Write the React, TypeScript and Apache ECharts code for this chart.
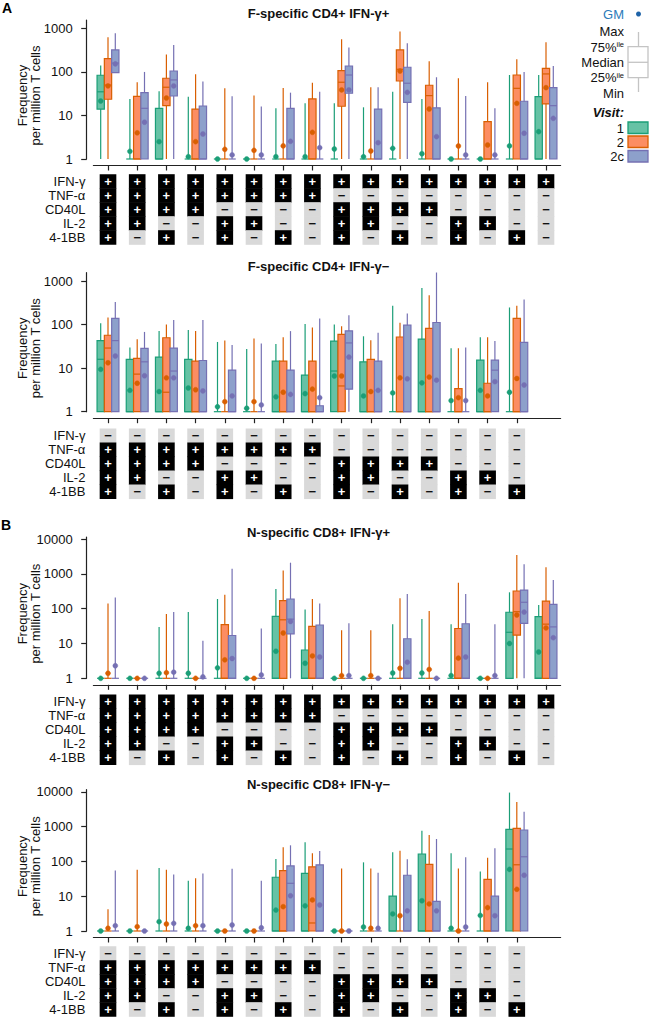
import React, { useEffect, useRef } from "react";
import * as echarts from "echarts";

const FONT = "'Liberation Sans', Arial, Helvetica, sans-serif";

const MARKERS = ["IFN-γ", "TNF-α", "CD40L", "IL-2", "4-1BB"];
const VISITS = ["1", "2", "2c"];
const COMBOS_POS = ["+++++", "++++-", "+++-+", "+++--", "++-++", "++-+-", "++--+", "++---", "+-+++", "+-++-", "+-+-+", "+-+--", "+--++", "+--+-", "+---+", "+----"];
const COMBOS_NEG = ["-++++", "-+++-", "-++-+", "-++--", "-+-++", "-+-+-", "-+--+", "-+---", "--+++", "--++-", "--+-+", "--+--", "---++", "---+-", "----+"];
const TICKS_A = [1, 10, 100, 1000];
const TICKS_B = [1, 10, 100, 1000, 10000];
const TITLES = ["F-specific CD4+ IFN-γ+", "F-specific CD4+ IFN-γ−", "N-specific CD8+ IFN-γ+", "N-specific CD8+ IFN-γ−"];

// [min, q25, median, q75, max, GM]
const F_POS_V1 = [[1, 14, 35, 84, 140, 21.5], [1, 1, 1, 1, 24, 1.5], [1, 1, 1, 14.6, 36, 2.5], [1, 1, 1, 1, 27, 1.13], [1, 1, 1, 1, 1, 1], [1, 1, 1, 1, 1, 1], [1, 1, 1, 1, 14.6, 1.13], [1, 1, 1, 1, 19, 1.13], [1, 1, 1, 1, 19, 1.7], [1, 1, 1, 1, 15.4, 1.13], [1, 1, 1, 1, 35, 1.76], [1, 1, 1, 1, 24, 1.32], [1, 1, 1, 1, 1, 1], [1, 1, 1, 1, 1, 1], [1, 1, 1, 1, 85, 2.0], [1, 1, 1, 27, 85, 4.25]];
const F_POS_V2 = [[1, 23.6, 50, 202, 627, 47.7], [1, 1, 1, 27.6, 58, 4], [1, 16.8, 44.5, 71.6, 250, 25.2], [1, 1, 1, 14, 88.5, 2.5], [1, 1, 1, 1, 42, 1.67], [1, 1, 1, 1, 28.6, 1.58], [1, 1, 1, 1, 42.9, 2.0], [1, 1, 1, 24, 56.7, 4.1], [1, 16.3, 58, 107, 565, 38.6], [1, 1, 1, 1, 44.6, 1.53], [1, 62, 115, 320, 845, 105], [1, 1, 28.6, 49.4, 176, 14.1], [1, 1, 1, 1, 71.6, 1.99], [1, 1, 1, 7.2, 58, 2.1], [1, 1, 42, 85, 195, 19], [1, 18.4, 90, 121, 481, 43.6]];
const F_POS_V2C = [[95, 96, 160, 320, 775, 153], [1, 1, 14.6, 33.4, 100, 7], [1, 28, 65.5, 105, 418, 47.7], [1, 1, 1, 16.5, 60, 3.75], [1, 1, 1, 1, 27.6, 1.24], [1, 1, 1, 1, 16, 1.24], [1, 1, 1, 14.6, 33.4, 2.55], [1, 1, 1, 1, 35, 1.82], [1, 32.4, 85, 137, 362, 38.6], [1, 1, 1, 14, 44.6, 2.37], [1, 20, 55, 128, 457, 34], [1, 1, 1, 15, 75.5, 3.26], [1, 1, 1, 1, 28, 1.24], [1, 1, 1, 1, 14.6, 1.24], [1, 1, 1, 21.2, 100, 3.9], [1, 1, 16.8, 43.6, 137, 8.6]];

const F_NEG_V1 = [[1, 1, 16, 43, 107, 9.4], [1, 1, 1, 16, 30, 3.1], [1, 1, 1, 18, 71, 2.9], [1, 1, 1, 16, 75, 3.5], [1, 1, 1, 1, 40, 1.3], [1, 1, 1, 1, 27.4, 1.2], [1, 1, 1, 14.5, 36, 2.2], [1, 1, 1, 6.9, 103, 2.6], [1, 1, 8.6, 42, 101, 6.6], [1, 1, 1, 14, 54, 2.3], [1, 1, 1, 1, 270, 2.7], [1, 1, 1, 46.5, 698, 4.6], [1, 1, 1, 1, 28.5, 1.8], [1, 1, 1, 15.3, 51, 3.1], [1, 1, 1, 1, 248, 2.8]];
const F_NEG_V2 = [[1, 1, 29, 57, 146, 13.3], [1, 1, 7.3, 16.8, 46, 4.5], [1, 1, 2.8, 50, 101, 6.0], [1, 1, 1, 14.5, 71, 3.2], [1, 1, 1, 1, 43, 1.7], [1, 1, 1, 1, 48, 1.7], [1, 1, 1, 14.5, 51, 2.8], [1, 1, 1, 14.5, 86, 3.3], [1, 1, 3.9, 60, 92, 6.6], [1, 1, 1, 16, 44, 2.9], [1, 1, 1, 52, 110, 6.0], [1, 1, 1, 82, 475, 6.25], [1, 1, 1, 3.4, 28.5, 2.1], [1, 1, 1, 4.5, 51, 2.3], [1, 1, 1, 139, 270, 5.8]];
const F_NEG_V2C = [[1, 1, 43, 139, 333, 19], [1, 1, 14, 28.5, 68, 6.7], [1, 1, 8.6, 29, 127, 6], [1, 1, 1, 15, 127, 3.0], [1, 1, 1, 9, 34, 2.3], [1, 1, 1, 1, 37, 1.43], [1, 1, 1, 9, 71, 2.5], [1, 1, 1, 1.37, 139, 2.1], [1, 3.3, 38, 72, 165, 18], [1, 1, 1, 14.5, 65, 3.1], [1, 1, 1, 97, 181, 5.7], [1, 1, 1, 112, 1575, 5.3], [1, 1, 1, 1, 30, 1.8], [1, 1, 9, 15.3, 42, 4.9], [1, 1, 1, 39, 378, 4.1]];

const N_POS_V1 = [[1, 1, 1, 1, 1, 1], [1, 1, 1, 1, 1, 1], [1, 1, 1, 1, 30, 1.4], [1, 1, 1, 1, 80, 1.4], [1, 1, 1, 1, 190, 2], [1, 1, 1, 1, 1, 1], [1, 1, 1, 60, 370, 6], [1, 1, 1, 6.5, 95, 2.7], [1, 1, 1, 1, 1, 1], [1, 1, 1, 1, 1, 1], [1, 1, 1, 1, 36, 1.42], [1, 1, 1, 1, 51, 1.42], [1, 1, 1, 1, 36, 1.2], [1, 1, 1, 1, 1, 1], [1, 1, 21, 79, 296, 10], [1, 1, 1, 59, 128, 5.7]];
const N_POS_V2 = [[1, 1, 1, 1, 140, 1.4], [1, 1, 1, 1, 1, 1], [1, 1, 1, 1, 70, 1.45], [1, 1, 1, 1, 1, 1], [1, 1, 1, 35, 250, 3.4], [1, 1, 1, 1, 1, 1], [1, 1, 48, 170, 1250, 20], [1, 1, 1, 31, 190, 4.4], [1, 1, 1, 1, 24, 1.2], [1, 1, 1, 1, 24, 1.2], [1, 1, 1, 1, 199, 1.94], [1, 1, 1, 1, 86, 1.8], [1, 1, 1, 27, 558, 3.8], [1, 1, 1, 1, 1, 1], [1, 17.5, 82, 323, 3490, 66], [1, 1, 36, 166, 1549, 28]];
const N_POS_V2C = [[1, 1, 1, 1, 210, 2.3], [1, 1, 1, 1, 1, 1], [1, 1, 1, 1, 80, 1.5], [1, 1, 1, 1, 12, 1.1], [1, 1, 1, 17, 1400, 3.7], [1, 1, 1, 1, 27, 1.25], [1, 19, 50, 190, 2100, 43], [1, 1, 1, 34, 140, 4.1], [1, 1, 1, 1, 38, 1.2], [1, 1, 1, 1, 1, 1], [1, 1, 1, 13.7, 264, 2.9], [1, 1, 1, 1, 1, 1], [1, 1, 1, 37, 264, 4.1], [1, 1, 1, 1, 36, 1.2], [1, 38, 153, 344, 1890, 80], [1, 1, 30, 134, 668, 14.7]];

const N_NEG_V1 = [[1, 1, 1, 1, 1, 1], [1, 1, 1, 1, 1, 1], [1, 1, 1, 1, 65, 1.85], [1, 1, 1, 1, 28, 1.2], [1, 1, 1, 1, 1, 1], [1, 1, 1, 1, 1, 1], [1, 1, 1, 35, 117, 4.0], [1, 1, 1, 45, 353, 5.3], [1, 1, 1, 1, 1, 1], [1, 1, 1, 1, 94, 1.3], [1, 1, 1, 10.1, 183, 3.1], [1, 1, 1, 163, 762, 7.4], [1, 1, 1, 1, 171, 1.2], [1, 1, 1, 1, 51, 2.8], [1, 1, 227, 836, 9500, 59]];
const N_NEG_V2 = [[1, 1, 1, 1, 4.2, 1.2], [1, 1, 1, 1, 58, 1.33], [1, 1, 1, 1, 58, 1.59], [1, 1, 1, 1, 33, 1.42], [1, 1, 1, 1, 1, 1], [1, 1, 1, 1, 1, 1], [1, 1, 1, 54, 254, 5.0], [1, 1, 1.7, 70, 171, 7.8], [1, 1, 1, 1, 63, 1], [1, 1, 1, 1, 63, 1.2], [1, 1, 1, 1, 203, 2.75], [1, 1, 1, 82, 574, 6.0], [1, 1, 1, 1, 63, 1], [1, 1, 1, 30.6, 128, 4.7], [1, 1, 80, 894, 5090, 15.8]];
const N_NEG_V2C = [[1, 1, 1, 1, 55, 1.42], [1, 1, 1, 1, 1, 1], [1, 1, 1, 1, 42, 1.66], [1, 1, 1, 1, 45, 1.42], [1, 1, 1, 1, 62, 1.49], [1, 1, 1, 1, 28, 1.24], [1, 1, 23.5, 74, 290, 10.3], [1, 1, 1, 80, 199, 5.6], [1, 1, 1, 1, 1, 1], [1, 1, 1, 1, 47, 1.2], [1, 1, 1, 40, 115, 3.8], [1, 1, 1, 7.1, 440, 3.8], [1, 1, 1, 1, 131, 1.3], [1, 1, 1, 10, 237, 2.75], [1, 1, 136, 798, 2680, 40]];

const FILL = ["#66c2a5", "#fc8d62", "#8da0cb"];
const EDGE = ["#1b9e77", "#d95f02", "#7570b3"];
const AXIS = "#222";

const PANELS = [
  { title: TITLES[0], combos: COMBOS_POS, series: [F_POS_V1, F_POS_V2, F_POS_V2C], ticks: TICKS_A, top: 20, h: 139, max: 1560, tTop: 174.5, titleY: 13.5 },
  { title: TITLES[1], combos: COMBOS_NEG, series: [F_NEG_V1, F_NEG_V2, F_NEG_V2C], ticks: TICKS_A, top: 272.7, h: 139, max: 1560, tTop: 428.8, titleY: 266.5 },
  { title: TITLES[2], combos: COMBOS_POS, series: [N_POS_V1, N_POS_V2, N_POS_V2C], ticks: TICKS_B, top: 537, h: 141.3, max: 11500, tTop: 694.8, titleY: 532.5 },
  { title: TITLES[3], combos: COMBOS_NEG, series: [N_NEG_V1, N_NEG_V2, N_NEG_V2C], ticks: TICKS_B, top: 789.7, h: 141.3, max: 11500, tTop: 946.5, titleY: 784.5 },
];

const NCAT = 16;
const GRID_LEFT = 93.4;
const GRID_W = 467.2;

function boxRenderer(k: number) {
  return (params: any, api: any) => {
    const c = api.value(0);
    const mn = api.value(1), q1 = api.value(2), md = api.value(3), q3 = api.value(4), mx = api.value(5), gm = api.value(6);
    const band = api.size([1, 1], [c, 10])[0];
    const bw = band * 0.25;
    const x = api.coord([c, 1])[0] + (k - 1) * bw;
    const y = (v: number) => api.coord([c, v])[1];
    const st = { stroke: EDGE[k], lineWidth: 1.2 };
    const children: any[] = [];
    if (mx > mn) children.push({ type: "line", shape: { x1: x, y1: y(mn), x2: x, y2: y(mx) }, style: st });
    if (q3 > q1) {
      children.push({ type: "rect", shape: { x: x - bw / 2, y: y(q3), width: bw, height: y(q1) - y(q3) }, style: { fill: FILL[k], stroke: EDGE[k], lineWidth: 1.2 } });
      children.push({ type: "line", shape: { x1: x - bw / 2, y1: y(md), x2: x + bw / 2, y2: y(md) }, style: st });
    } else {
      children.push({ type: "line", shape: { x1: x - bw / 2, y1: y(q1), x2: x + bw / 2, y2: y(q1) }, style: st });
    }
    children.push({ type: "circle", shape: { cx: x, cy: y(gm), r: 2.5 }, style: { fill: EDGE[k], stroke: EDGE[k], lineWidth: 0.4 } });
    return { type: "group", children };
  };
}

function cellRenderer(params: any, api: any) {
  const c = api.value(0), r = api.value(1), s = api.value(2);
  const p = api.coord([c, r]);
  const sz = api.size([1, 1], [c, r]);
  const w = sz[0] * 0.57, h = sz[1];
  return {
    type: "group",
    children: [
      { type: "rect", shape: { x: p[0] - w / 2, y: p[1] - h / 2 - 0.3, width: w, height: h + 0.6 }, style: { fill: s > 0 ? "#000" : "#d9d9d9" } },
      { type: "text", x: p[0], y: p[1], style: { text: s > 0 ? "+" : "−", fill: s > 0 ? "#fff" : "#111", fontSize: 13, fontWeight: "bold", fontFamily: FONT, align: "center", verticalAlign: "middle" } },
    ],
  };
}

function buildOption() {
  const grid: any[] = [], xAxis: any[] = [], yAxis: any[] = [], series: any[] = [], graphic: any[] = [];
  const cats = Array.from({ length: NCAT }, (_, i) => String(i));
  PANELS.forEach((P, pi) => {
    const gi = pi * 2;
    const nUsed = P.combos.length;
    grid.push({ left: GRID_LEFT, width: GRID_W, top: P.top, height: P.h, containLabel: false });
    grid.push({ left: GRID_LEFT, width: GRID_W, top: P.tTop, height: 70, containLabel: false });
    xAxis.push({
      type: "category", gridIndex: gi, data: cats, boundaryGap: true, offset: 6.5,
      axisLine: { show: true, lineStyle: { color: AXIS, width: 1.2 } },
      axisTick: { show: true, alignWithLabel: true, length: 5, interval: (i: number) => i < nUsed, lineStyle: { color: AXIS, width: 1.2 } },
      axisLabel: { show: false }, splitLine: { show: false },
    });
    xAxis.push({ type: "category", gridIndex: gi + 1, data: cats, boundaryGap: true, show: false });
    yAxis.push({
      type: "log", logBase: 10, gridIndex: gi, min: 1, max: P.max, offset: 6.7,
      axisLine: { show: true, lineStyle: { color: AXIS, width: 1.2 } },
      axisTick: { show: true, length: 5.5, customValues: P.ticks, lineStyle: { color: AXIS, width: 1.2 } },
      axisLabel: { customValues: P.ticks, fontSize: 13, color: "#111", fontFamily: FONT, margin: 14, formatter: (v: number) => String(Math.round(v)) },
      splitLine: { show: false },
    });
    yAxis.push({
      type: "category", gridIndex: gi + 1, data: MARKERS, inverse: true,
      axisLine: { show: false }, axisTick: { show: false },
      axisLabel: { interval: 0, fontSize: 13, color: "#111", fontFamily: FONT, margin: 8 },
    });
    P.series.forEach((arr, k) => {
      series.push({
        type: "custom", name: VISITS[k], xAxisIndex: gi, yAxisIndex: gi, coordinateSystem: "cartesian2d",
        renderItem: boxRenderer(k), encode: { x: 0, y: [1, 2, 3, 4, 5] },
        data: arr.map((v, i) => [i, ...v]), clip: false,
      });
    });
    const cells: any[] = [];
    P.combos.forEach((cmb, i) => { for (let r = 0; r < 5; r++) cells.push([i, r, cmb[r] === "+" ? 1 : 0]); });
    series.push({ type: "custom", xAxisIndex: gi + 1, yAxisIndex: gi + 1, coordinateSystem: "cartesian2d", renderItem: cellRenderer, encode: { x: 0, y: 1 }, data: cells });
    graphic.push({ type: "text", x: 318.5, y: P.titleY, style: { text: P.title, fontSize: 13, fontWeight: "bold", fontFamily: FONT, fill: "#111", align: "center", verticalAlign: "middle" } });
    graphic.push({ type: "text", x: 29, y: P.top + P.h / 2 + 6, rotation: Math.PI / 2, style: { text: "Frequency\nper million T cells", fontSize: 13, lineHeight: 12.5, fontFamily: FONT, fill: "#111", align: "center", verticalAlign: "middle" } });
  });
  graphic.push({ type: "text", x: 2, y: 8, style: { text: "A", fontSize: 14, fontWeight: "bold", fontFamily: FONT, fill: "#000", verticalAlign: "middle" } });
  graphic.push({ type: "text", x: 1, y: 525, style: { text: "B", fontSize: 14, fontWeight: "bold", fontFamily: FONT, fill: "#000", verticalAlign: "middle" } });
  // legend
  const lg = "#c4c4c4";
  const lt = (text: string, y: number, extra: any = {}) => ({ type: "text", x: 624, y, style: { text, fontSize: 13, fontFamily: FONT, fill: "#111", align: "right", verticalAlign: "middle", ...extra } });
  graphic.push(lt("GM", 14, { fill: "#2b7bba" }));
  graphic.push({ type: "circle", shape: { cx: 638.5, cy: 14, r: 2.5 }, style: { fill: "#1f63a8" } });
  graphic.push({ type: "line", shape: { x1: 638.5, y1: 32, x2: 638.5, y2: 92 }, style: { stroke: lg, lineWidth: 1.3 } });
  graphic.push({ type: "rect", shape: { x: 628, y: 46.7, width: 20, height: 31 }, style: { fill: "#fff", stroke: lg, lineWidth: 1.3 } });
  graphic.push({ type: "line", shape: { x1: 628, y1: 62.3, x2: 648, y2: 62.3 }, style: { stroke: lg, lineWidth: 1.3 } });
  const rich = { a: { fontSize: 13, fontFamily: FONT, fill: "#111" }, s: { fontSize: 7.5, fontFamily: FONT, fill: "#111", verticalAlign: "top" } };
  graphic.push(lt("Max", 31));
  graphic.push(lt("{a|75%}{s|ile}", 47, { rich }));
  graphic.push(lt("Median", 62));
  graphic.push(lt("{a|25%}{s|ile}", 77.5, { rich }));
  graphic.push(lt("Min", 93));
  graphic.push(lt("Visit:", 112, { fontWeight: "bold", fontStyle: "italic" }));
  const ry = [122, 136, 150.5];
  VISITS.forEach((v, k) => {
    graphic.push({ type: "rect", shape: { x: 628, y: ry[k], width: 20, height: 11.5 }, style: { fill: FILL[k], stroke: EDGE[k], lineWidth: 1.3 } });
    graphic.push(lt(v, ry[k] + 6));
  });
  return { animation: false, grid, xAxis, yAxis, series, graphic };
}

export default function App() {
  const ref = useRef<HTMLDivElement>(null);
  useEffect(() => {
    document.body.style.margin = "0";
    if (!ref.current) return;
    const chart = echarts.init(ref.current, null, { renderer: "svg" });
    chart.setOption(buildOption() as any);
    return () => chart.dispose();
  }, []);
  return <div ref={ref} style={{ width: 649, height: 1017, position: "absolute", left: 0, top: 0 }} />;
}
